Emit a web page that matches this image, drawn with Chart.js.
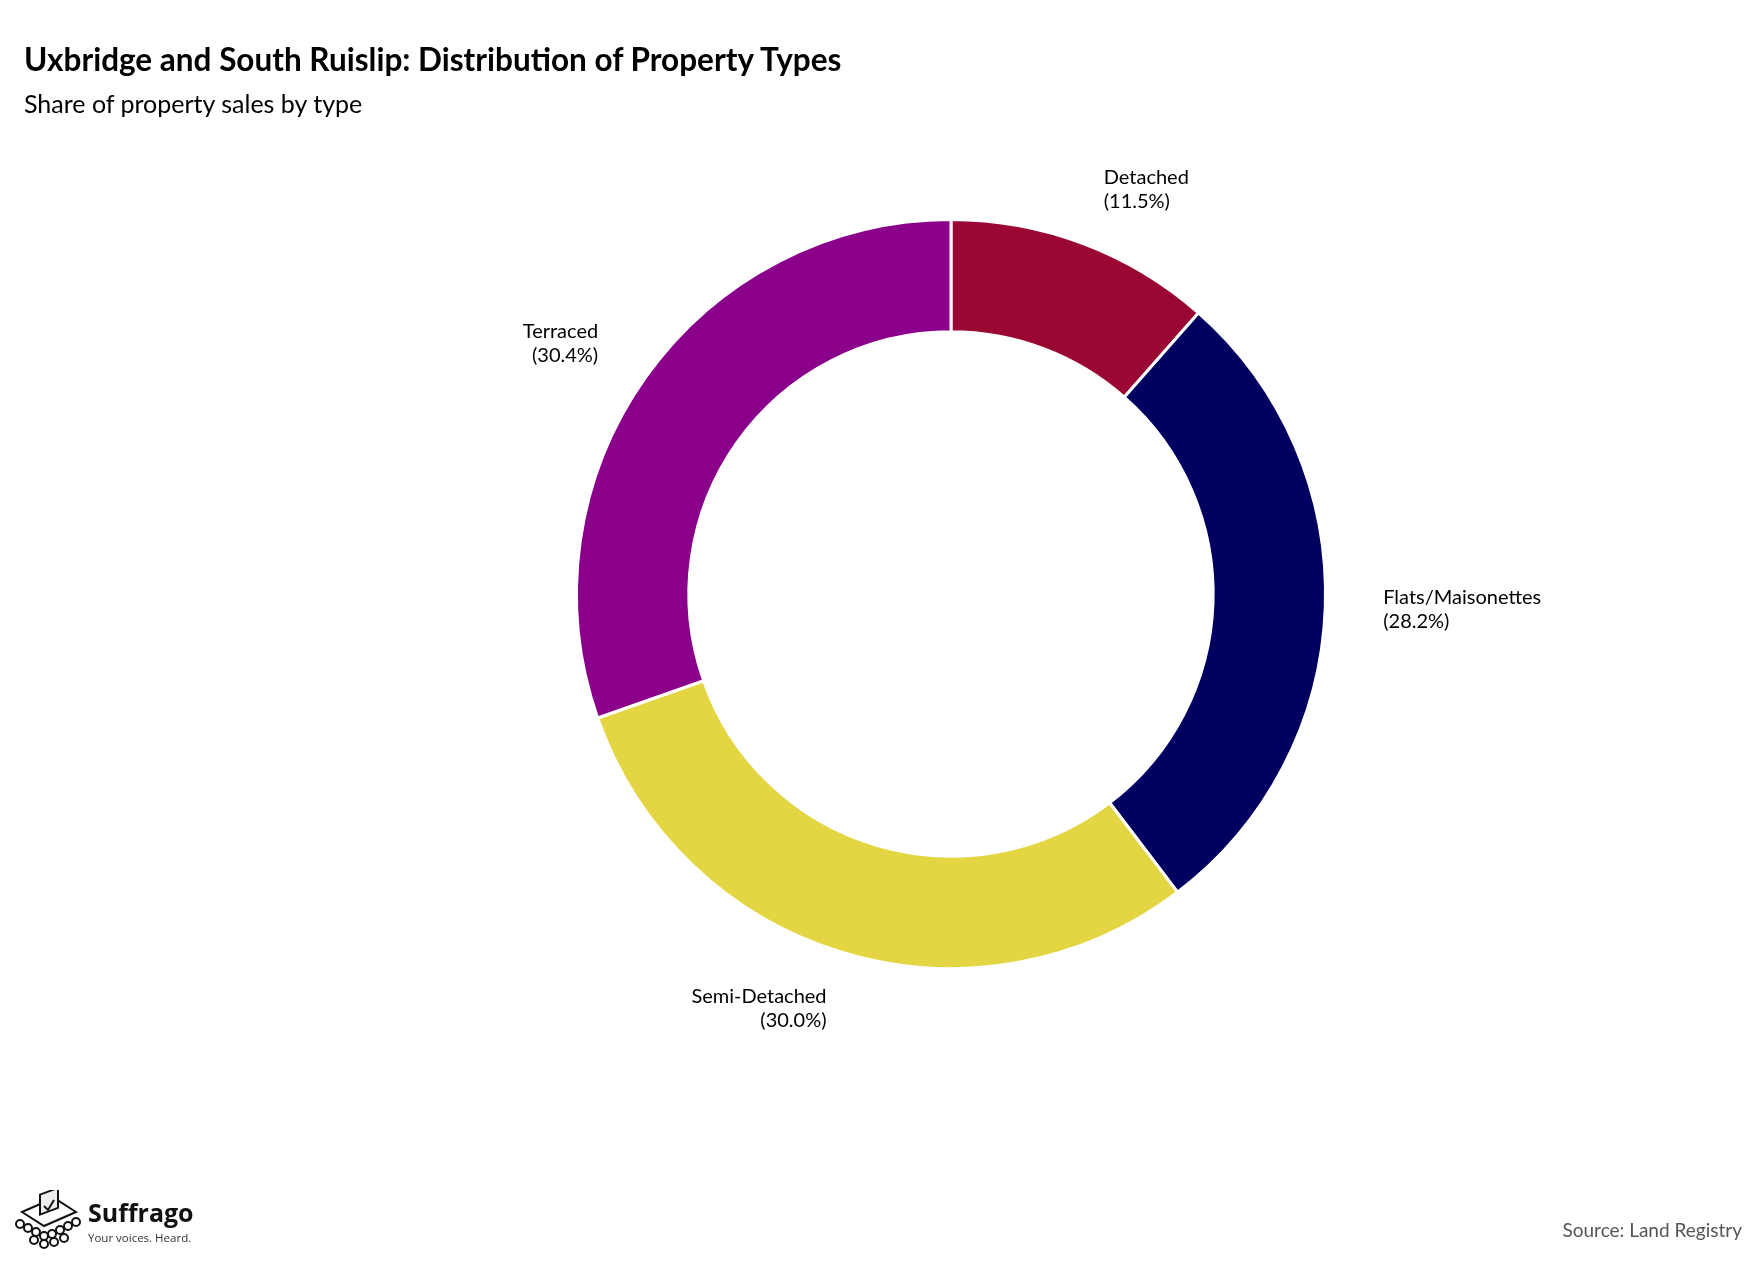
<!DOCTYPE html>
<html>
<head>
<meta charset="utf-8">
<script src="https://cdn.jsdelivr.net/npm/chart.js@4"></script>
<style>
  body { margin: 0; background: #fff; font-family: Lato, sans-serif; }
  #wrap { position: relative; width: 1758px; height: 1265px; }
  #chart { position: absolute; left: 0; top: 0; }
  .title { position: absolute; left: 24px; top: 40px; font-size: 31.5px; font-weight: bold; color: #000; }
  .subtitle { position: absolute; left: 24px; top: 88px; font-size: 25px; color: #000; }
  .source { position: absolute; right: 16px; top: 1218px; font-size: 19px; color: #555; }
  .logo { position: absolute; left: 14px; top: 1190px; }
</style>
</head>
<body>
<div id="wrap">
  <canvas id="chart" width="1758" height="1265"></canvas>
  <div class="title">Uxbridge and South Ruislip: Distribution of Property Types</div>
  <div class="subtitle">Share of property sales by type</div>
  <div class="source">Source: Land Registry</div>
  <div class="logo">
    <svg width="190" height="64" viewBox="0 0 190 64">
      <g fill="none" stroke="#111" stroke-width="2">
        <polygon points="8,22 40,8 62,22 30,36" fill="#fff"/>
        <rect x="26" y="2" width="18" height="20" fill="#eee" transform="skewY(-20) translate(0,12)"/>
        <polyline points="30,16 34,20 40,10" />
        <circle cx="6" cy="34" r="4"/><circle cx="14" cy="38" r="4"/><circle cx="22" cy="42" r="4"/>
        <circle cx="30" cy="46" r="4"/><circle cx="38" cy="44" r="4"/><circle cx="46" cy="40" r="4"/>
        <circle cx="54" cy="36" r="4"/><circle cx="62" cy="32" r="4"/><circle cx="30" cy="54" r="4"/>
        <circle cx="20" cy="50" r="4"/><circle cx="40" cy="52" r="4"/><circle cx="50" cy="48" r="4"/>
      </g>
      <text x="74" y="32" font-family="'Open Sans', sans-serif" font-weight="bold" font-size="25" fill="#111">Suffrago</text>
      <text x="74" y="52" font-family="'Open Sans', sans-serif" font-size="11.5" fill="#333">Your voices. Heard.</text>
    </svg>
  </div>
</div>
<script>
const categories = ["Detached", "Flats/Maisonettes", "Semi-Detached", "Terraced"];
const shares = [11.5, 28.2, 30.0, 30.4];
const colours = ["#9B0733", "#000060", "#E3D642", "#8B008B"];

const outerLabels = {
  id: "outerLabels",
  afterDatasetsDraw(chart) {
    const ctx = chart.ctx;
    const meta = chart.getDatasetMeta(0);
    ctx.save();
    ctx.font = "20px Lato, sans-serif";
    ctx.fillStyle = "#000";
    ctx.textBaseline = "middle";
    meta.data.forEach((arc, i) => {
      const p = arc.getProps(["x", "y", "startAngle", "endAngle", "outerRadius"], true);
      const mid = (p.startAngle + p.endAngle) / 2;
      const r = p.outerRadius + 58;
      const x = p.x + Math.cos(mid) * r;
      const y = p.y + Math.sin(mid) * r;
      ctx.textAlign = Math.cos(mid) >= 0 ? "left" : "right";
      ctx.fillText(categories[i], x, y - 12);
      ctx.fillText("(" + shares[i].toFixed(1) + "%)", x, y + 12);
    });
    ctx.restore();
  }
};

new Chart(document.getElementById("chart"), {
  type: "doughnut",
  data: {
    labels: categories,
    datasets: [{
      data: shares,
      backgroundColor: colours,
      borderColor: "#fff",
      borderWidth: 3
    }]
  },
  options: {
    responsive: false,
    animation: false,
    cutout: "70%",
    layout: { padding: { left: 575, right: 431, top: 218, bottom: 295 } },
    plugins: { legend: { display: false }, tooltip: { enabled: false } }
  },
  plugins: [outerLabels]
});
</script>
</body>
</html>
